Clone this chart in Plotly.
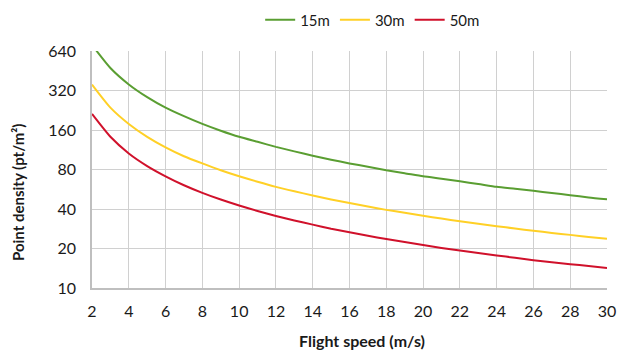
import plotly.graph_objects as go

speed = list(range(2, 31))
d15 = [712, 475, 356, 285, 237, 204, 178, 158, 142, 130, 119, 110, 102, 95, 89, 84, 79, 75, 71, 68, 65, 62, 59, 57, 55, 53, 51, 49, 47.5]
d30 = [355, 237, 178, 142, 118, 101, 89, 79, 71, 64.5, 59, 54.6, 50.7, 47.3, 44.4, 41.8, 39.4, 37.4, 35.5, 33.8, 32.3, 30.9, 29.6, 28.4, 27.3, 26.3, 25.4, 24.5, 23.7]
d50 = [212, 142, 106, 85, 71, 60.7, 53.1, 47.2, 42.5, 38.6, 35.4, 32.7, 30.4, 28.3, 26.6, 25.0, 23.6, 22.4, 21.3, 20.2, 19.3, 18.5, 17.7, 17.0, 16.3, 15.7, 15.2, 14.7, 14.2]
series = [("15m", d15, "#5A9E32"), ("30m", d30, "#FFD026"), ("50m", d50, "#D0112B")]
xticks = list(range(2, 31, 2))
yticks = [10, 20, 40, 80, 160, 320, 640]

fig = go.Figure()
for name, vals, col in series:
    fig.add_trace(go.Scatter(x=speed, y=vals, name=name, mode="lines",
                             line=dict(color=col, width=2, shape="spline", smoothing=0.6)))

font = "Lato, 'Open Sans', sans-serif"
fig.update_layout(
    width=617, height=352,
    margin=dict(l=92, r=10, t=51, b=64, autoexpand=False),
    paper_bgcolor="white", plot_bgcolor="white",
    font=dict(family=font, size=16, color="#1a1a1a"),
    showlegend=True,
    legend=dict(orientation="h", x=0.545, xanchor="center", xref="paper",
                y=1 - 20 / 352, yanchor="middle", yref="container",
                font=dict(size=15), itemwidth=30, tracegroupgap=0),
    xaxis=dict(range=[2, 30], tickvals=xticks, showgrid=True, gridcolor="#d0d0d0", gridwidth=1,
               showline=True, linecolor="#bfbfbf", linewidth=1.5, zeroline=False,
               ticks="", ticklabelstandoff=8, automargin=False),
    yaxis=dict(type="log", range=[1, 2.80618], tickvals=yticks, ticktext=[str(v) for v in yticks],
               showgrid=True, gridcolor="#d0d0d0", gridwidth=1,
               showline=True, linecolor="#bfbfbf", linewidth=1.5, zeroline=False,
               ticks="", ticklabelstandoff=11, automargin=False),
    annotations=[
        dict(text="<b>Flight speed (m/s)</b>", xref="paper", yref="paper", x=(362 - 92) / 515,
             y=-(340 - 288) / 237, xanchor="center", yanchor="middle", showarrow=False,
             font=dict(size=16)),
        dict(text="<b>Point density (pt/m²)</b>", xref="paper", yref="paper", x=-(92 - 18) / 515,
             y=(288 - 193) / 237, xanchor="center", yanchor="middle", textangle=-90,
             showarrow=False, font=dict(size=15)),
    ],
)
fig.write_html("out.html", config={"displayModeBar": False},
               post_script="document.body.style.margin='0';")
